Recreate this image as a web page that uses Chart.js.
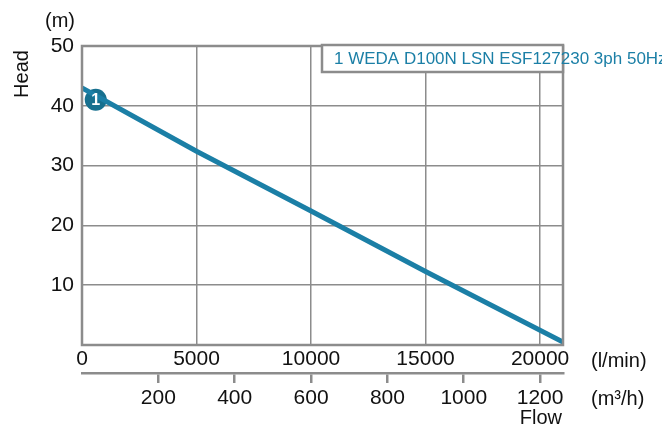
<!DOCTYPE html>
<html>
<head>
<meta charset="utf-8">
<script src="https://cdn.jsdelivr.net/npm/chart.js@4"></script>
<style>
  html, body { margin: 0; padding: 0; background: #fff; }
  #wrap { width: 662px; height: 428px; }
</style>
</head>
<body>
<div id="wrap"><canvas id="chart" width="662" height="428"></canvas></div>
<script>
// curve: flow in l/min, head in m
const flowLmin = [0, 5000, 10000, 15000, 21000];
const headM = [43.0, 32.4, 22.4, 12.3, 0.5];
const markerFlow = [600];
const markerHead = [41];
const markerLabel = "1";
const seriesName = "1 WEDA D100N LSN ESF127230 3ph 50Hz";
const flowTicksLmin = [0, 5000, 10000, 15000, 20000];
const flowTicksM3h = [200, 400, 600, 800, 1000, 1200];
const headTicks = [10, 20, 30, 40, 50];

const FONT = "Arial, 'Liberation Sans', sans-serif";
const GRAY = "#8c8c8c";
const BLUE = "#1b7fa6";

const curve = flowLmin.map((f, i) => ({ x: f, y: headM[i] }));
const marker = markerFlow.map((f, i) => ({ x: f, y: markerHead[i] }));

const decorations = {
  id: "decorations",
  afterDatasetsDraw(chart) {
    const ctx = chart.ctx;
    const a = chart.chartArea;
    ctx.save();
    // plot frame
    ctx.strokeStyle = GRAY;
    ctx.lineWidth = 2.5;
    ctx.strokeRect(a.left, a.top, a.right - a.left, a.bottom - a.top);

    // marker label
    const pt = chart.getDatasetMeta(1).data[0];
    ctx.fillStyle = "#fff";
    ctx.font = "bold 16px " + FONT;
    ctx.textAlign = "center";
    ctx.textBaseline = "middle";
    ctx.fillText(markerLabel, pt.x, pt.y + 1);

    // legend box
    ctx.fillStyle = "#fff";
    ctx.fillRect(322, 45, 241, 27);
    ctx.strokeStyle = GRAY;
    ctx.lineWidth = 2.5;
    ctx.strokeRect(322, 45, 241, 27);
    ctx.fillStyle = BLUE;
    ctx.font = "17px " + FONT;
    ctx.textAlign = "left";
    ctx.textBaseline = "middle";
    ctx.fillText(seriesName, 334, 59);

    // unit and axis titles
    ctx.fillStyle = "#111";
    ctx.font = "20px " + FONT;
    ctx.textAlign = "left";
    ctx.fillText("(l/min)", 591, 361);
    ctx.fillText("(m\u00B3/h)", 591, 399);
    ctx.textAlign = "right";
    ctx.fillText("Flow", 562, 418);
    ctx.fillText("(m)", 75, 21);
    ctx.translate(22, 74);
    ctx.rotate(-Math.PI / 2);
    ctx.textAlign = "center";
    ctx.fillText("Head", 0, 0);
    ctx.restore();
  }
};

const tickFont = { family: FONT, size: 21 };

new Chart(document.getElementById("chart"), {
  type: "scatter",
  data: {
    datasets: [
      {
        data: curve,
        showLine: true,
        borderColor: BLUE,
        borderWidth: 5,
        pointRadius: 0,
        tension: 0
      },
      {
        data: marker,
        pointRadius: 11,
        pointHoverRadius: 11,
        backgroundColor: "#17708f",
        borderColor: "#17708f",
        borderWidth: 0
      }
    ]
  },
  options: {
    responsive: false,
    animation: false,
    layout: { padding: { left: 0, top: 46, right: 99, bottom: 0 } },
    plugins: { legend: { display: false }, tooltip: { enabled: false } },
    scales: {
      x: {
        type: "linear",
        position: "bottom",
        weight: 0,
        min: 0,
        max: 21000,
        afterBuildTicks: s => { s.ticks = flowTicksLmin.map(v => ({ value: v })); },
        afterFit: s => { s.height = 28; },
        grid: { color: GRAY, lineWidth: 1.5, drawTicks: false },
        border: { display: false },
        ticks: { color: "#111", font: tickFont, padding: 2, maxRotation: 0, callback: v => String(v) }
      },
      x2: {
        type: "linear",
        position: "bottom",
        weight: 1,
        min: 0,
        max: 1260,
        afterBuildTicks: s => { s.ticks = flowTicksM3h.map(v => ({ value: v })); },
        afterFit: s => { s.height = 55; },
        grid: { drawOnChartArea: false, drawTicks: true, tickLength: 10, color: GRAY, lineWidth: 2.5 },
        border: { display: true, color: GRAY, width: 2.5 },
        ticks: { color: "#111", font: tickFont, padding: 3, maxRotation: 0, callback: v => String(v) }
      },
      y: {
        type: "linear",
        min: 0,
        max: 50,
        afterBuildTicks: s => { s.ticks = headTicks.map(v => ({ value: v })); },
        afterFit: s => { s.width = 82; },
        grid: { color: GRAY, lineWidth: 1.5, drawTicks: false },
        border: { display: false },
        ticks: { color: "#111", font: tickFont, padding: 8, callback: v => String(v) }
      }
    }
  },
  plugins: [decorations]
});
</script>
</body>
</html>
